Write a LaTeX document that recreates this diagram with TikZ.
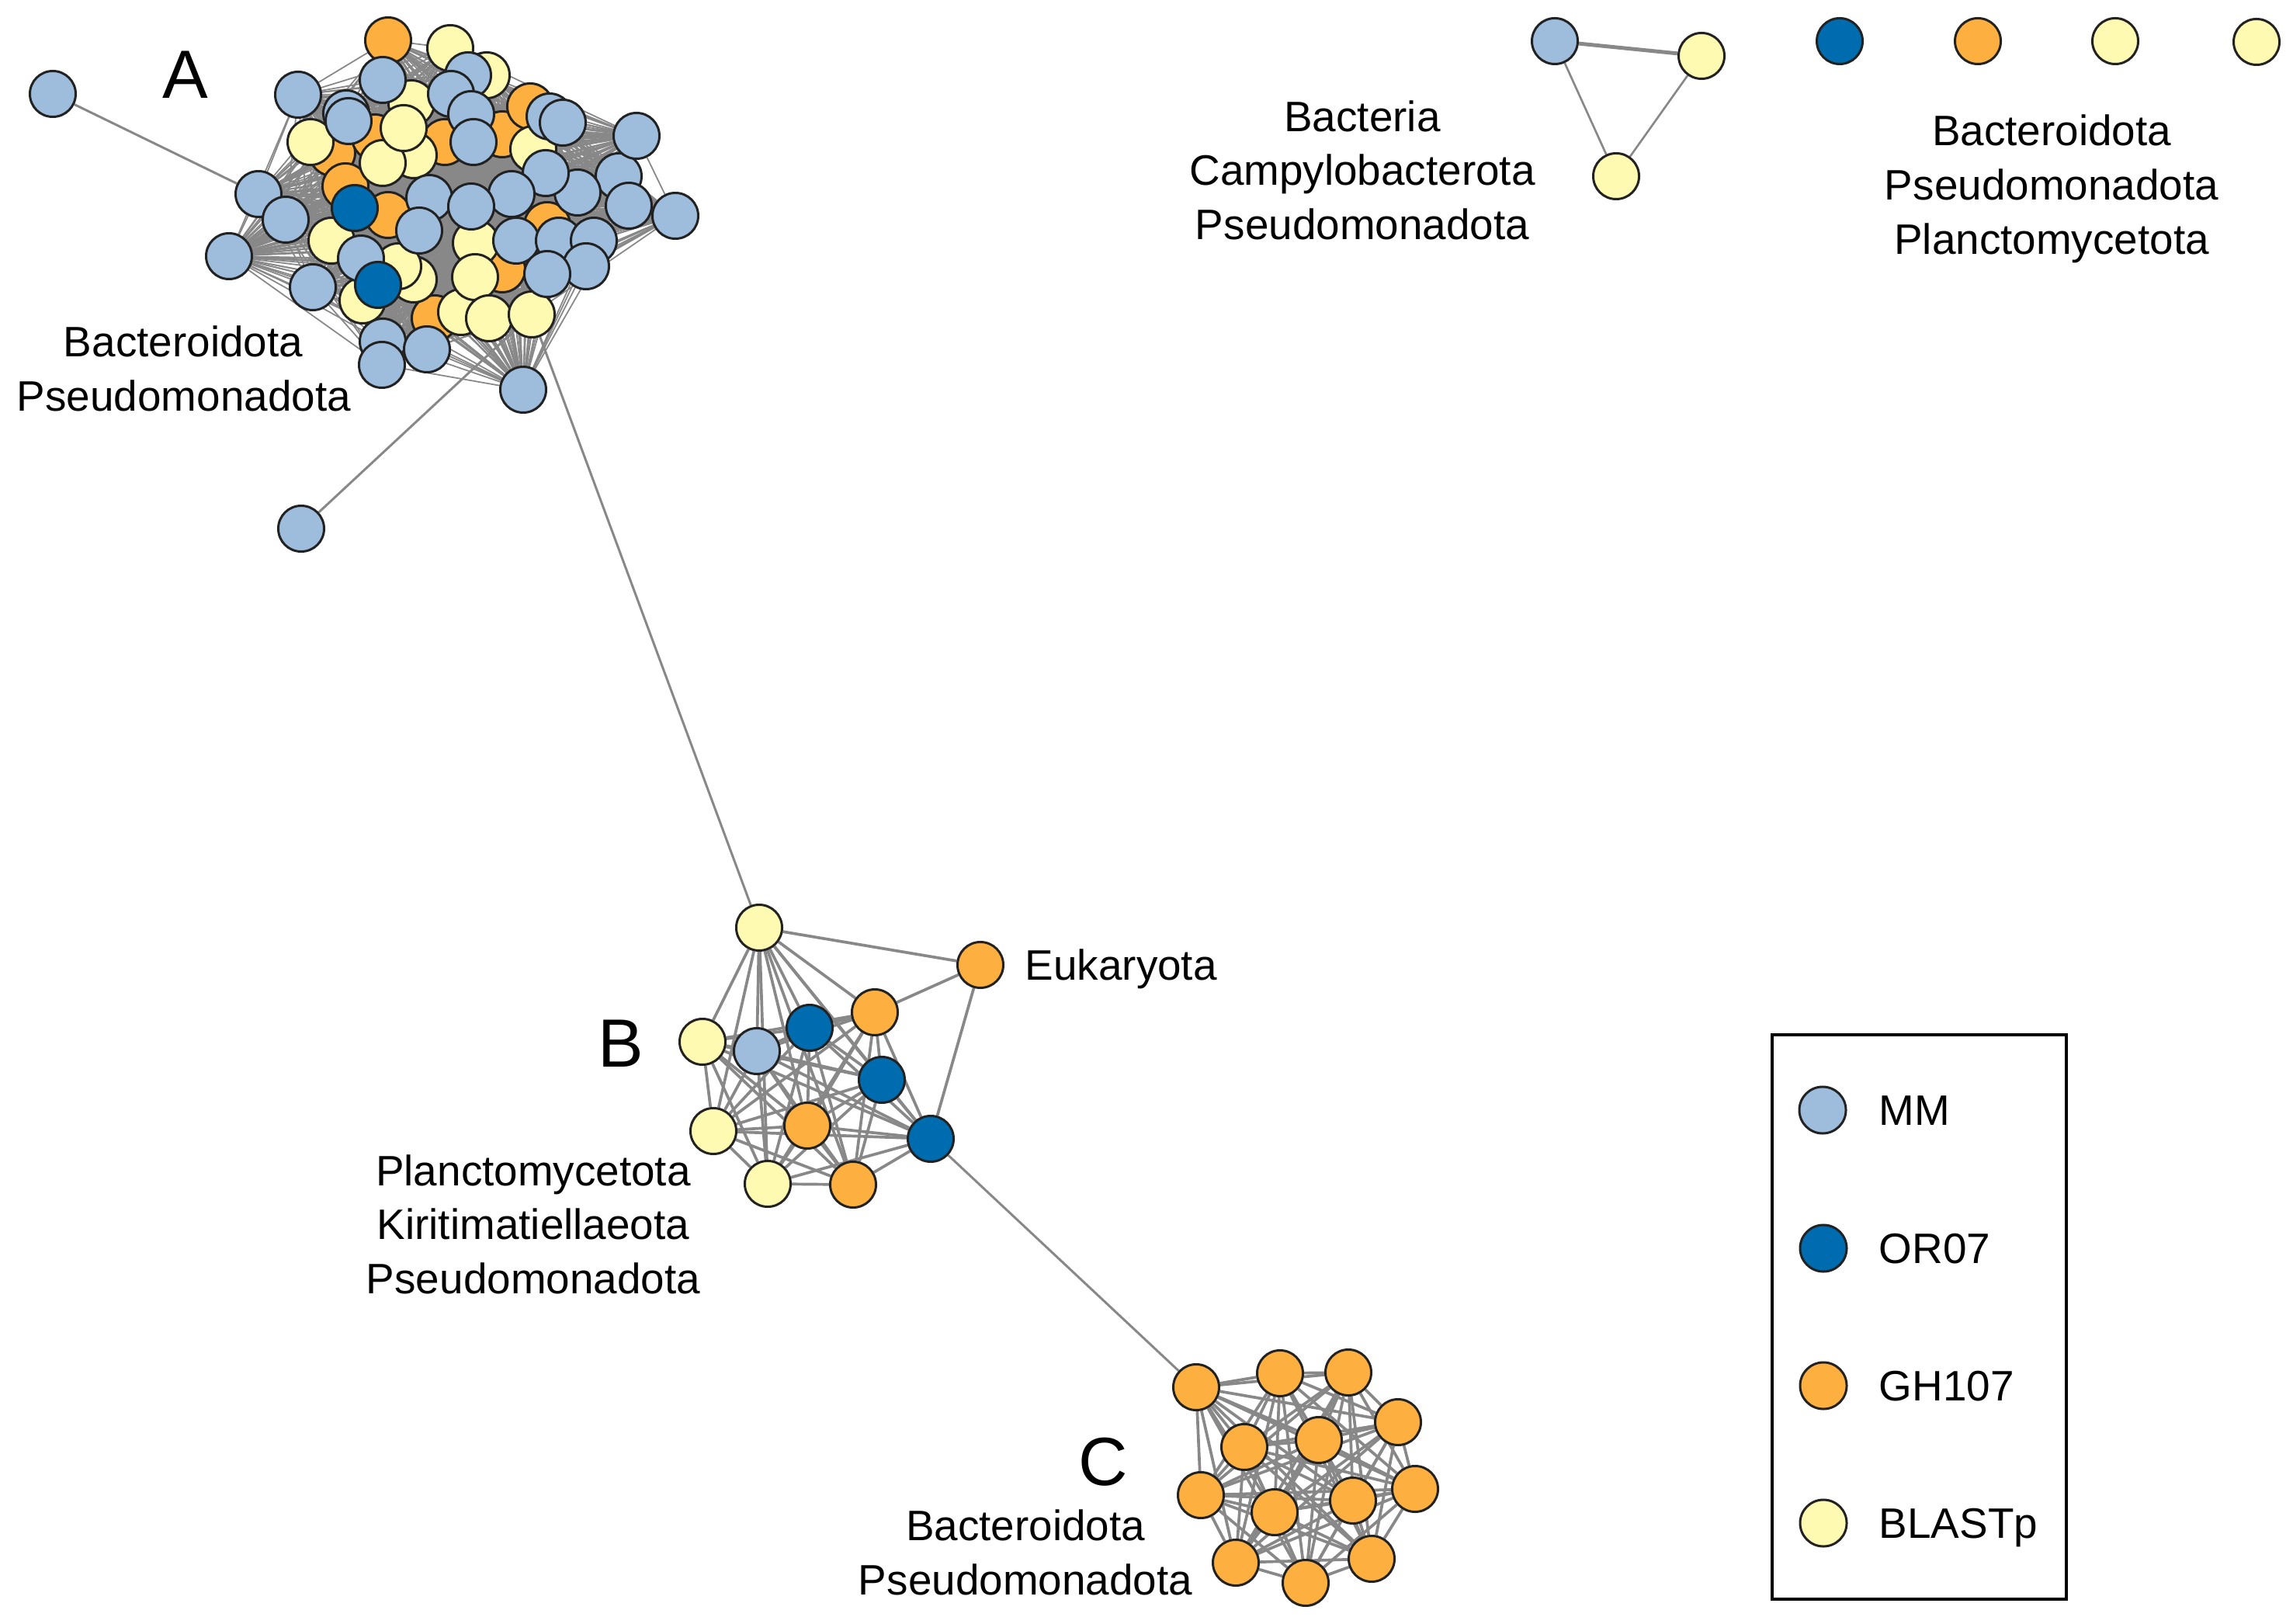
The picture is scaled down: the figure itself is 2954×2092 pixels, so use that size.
\documentclass[tikz,border=0pt]{standalone}
\usepackage{fontspec}
\setmainfont{Liberation Sans}
\pgfdeclarelayer{back}
\pgfdeclarelayer{bg}
\pgfsetlayers{back,bg,main}
\definecolor{cMM}{RGB}{158,189,221}
\definecolor{cOR}{RGB}{0,108,176}
\definecolor{cGH}{RGB}{253,176,64}
\definecolor{cBL}{RGB}{255,250,178}
\definecolor{cEdge}{RGB}{136,136,136}
\definecolor{cRim}{RGB}{34,34,34}
\begin{document}
\begin{tikzpicture}[x=0.01cm,y=-0.01cm,
  vtx/.style={circle,draw=cRim,line width=0.85pt,minimum size=0.59cm,inner sep=0pt},
  lnk/.style={draw=cEdge,line width=1.05pt},
  lnkA/.style={draw=cEdge,line width=0.5pt},
  lab/.style={font=\fontsize{15.6}{19.9}\selectfont,anchor=base,inner sep=0pt},
  big/.style={font=\fontsize{25}{30}\selectfont,anchor=base,inner sep=0pt}]
\begin{pgfonlayer}{back}
\fill[white] (0,0) rectangle (2954,2092);
\end{pgfonlayer}
\useasboundingbox (0,0) rectangle (2954,2092);

% ---------- cluster A ----------
\foreach [count=\k] \px/\py/\cc in {
 500/52/cGH, 428/197/cGH, 483/177/cGH, 445/240/cGH, 573/183/cGH, 647/173/cGH,
 683/137/cGH, 500/277/cGH, 560/410/cGH, 647/347/cGH, 705/290/cGH,
 580/62/cBL, 530/133/cBL, 533/200/cBL, 493/210/cBL, 400/183/cBL, 627/97/cBL,
 687/192/cBL, 427/310/cBL, 467/387/cBL, 533/360/cBL, 513/343/cBL, 594/402/cBL,
 613/313/cBL, 612/357/cBL, 630/410/cBL, 520/165/cBL, 685/405/cBL,
 493/103/cMM, 384/122/cMM, 446/146/cMM, 449/156/cMM, 333/250/cMM, 553/255/cMM,
 603/97/cMM, 581/121/cMM, 607/147/cMM, 610/183/cMM, 708/150/cMM, 725/158/cMM,
 797/227/cMM, 744/248/cMM, 703/223/cMM, 659/250/cMM, 607/266/cMM, 810/265/cMM,
 368/283/cMM, 295/330/cMM, 465/333/cMM, 403/370/cMM, 540/297/cMM, 493/440/cMM,
 492/470/cMM, 550/450/cMM, 665/310/cMM, 720/310/cMM, 765/310/cMM, 755/343/cMM,
 705/353/cMM,
 457/268/cOR, 487/367/cOR}
 { \node[vtx,fill=\cc] (a\k) at (\px,\py) {}; }
\node[vtx,fill=cMM] (aR2) at (820,175) {};
\node[vtx,fill=cMM] (aR1) at (870,278) {};
\node[vtx,fill=cMM] (aBot) at (674,502) {};
\node[vtx,fill=cMM] (aTL) at (68,121) {};
\node[vtx,fill=cMM] (aLB) at (388,681) {};

% ---------- cluster B ----------
\node[vtx,fill=cBL] (b1) at (978,1195) {};
\node[vtx,fill=cBL] (b2) at (905,1342) {};
\node[vtx,fill=cMM] (b3) at (975,1354) {};
\node[vtx,fill=cOR] (b4) at (1043,1324) {};
\node[vtx,fill=cGH] (b5) at (1127,1304) {};
\node[vtx,fill=cOR] (b6) at (1136,1391) {};
\node[vtx,fill=cOR] (b7) at (1199,1467) {};
\node[vtx,fill=cBL] (b8) at (919,1457) {};
\node[vtx,fill=cGH] (b9) at (1040,1450) {};
\node[vtx,fill=cBL] (b10) at (989,1525) {};
\node[vtx,fill=cGH] (b11) at (1099,1526) {};
\node[vtx,fill=cGH] (euk) at (1263,1243) {};

% ---------- cluster C ----------
\foreach [count=\k] \px/\py in {1541/1787, 1649/1769, 1737/1768, 1801/1832,
  1603/1864, 1699/1855, 1823/1918, 1547/1926, 1642/1948, 1743/1933,
  1592/2013, 1682/2039, 1767/2008}
 { \node[vtx,fill=cGH] (c\k) at (\px,\py) {}; }

% ---------- small components ----------
\node[vtx,fill=cMM] (t1) at (2003,53) {};
\node[vtx,fill=cBL] (t2) at (2192,72) {};
\node[vtx,fill=cBL] (t3) at (2082,227) {};
\node[vtx,fill=cOR] (s1) at (2370,53) {};
\node[vtx,fill=cGH] (s2) at (2548,53) {};
\node[vtx,fill=cBL] (s3) at (2725,53) {};
\node[vtx,fill=cBL] (s4) at (2907,54) {};

% ---------- edges ----------
\begin{pgfonlayer}{bg}
\foreach \i in {1,...,60}{
  \pgfmathtruncatemacro\ip{\i+1}
  \foreach \j in {\ip,...,61}{ \draw[lnkA] (a\i.center) -- (a\j.center); }
}
\foreach \i in {1,...,61}{
  \draw[lnkA] (aR1.center) -- (a\i.center);
  \draw[lnkA] (aR2.center) -- (a\i.center);
  \draw[lnkA] (aBot.center) -- (a\i.center);
}
\draw[lnkA] (aR1) -- (aR2);
\draw[lnk,line width=0.85pt] (aTL) -- (a33);
\draw[lnk,line width=0.85pt] (aLB) -- (a28);
\draw[lnk,line width=0.85pt] (a28) -- (b1);
\foreach \i in {1,...,10}{
  \pgfmathtruncatemacro\ip{\i+1}
  \foreach \j in {\ip,...,11}{ \draw[lnk] (b\i) -- (b\j); }
}
\draw[lnk] (euk) -- (b1);
\draw[lnk] (euk) -- (b5);
\draw[lnk] (euk) -- (b7);
\draw[lnk,line width=0.85pt] (b7) -- (c1);
\foreach \i in {1,...,12}{
  \pgfmathtruncatemacro\ip{\i+1}
  \foreach \j in {\ip,...,13}{ \draw[lnk] (c\i) -- (c\j); }
}
\draw[lnk,line width=1.4pt] (t1) -- (t2);
\draw[lnk,line width=0.75pt] (t1) -- (t3);
\draw[lnk,line width=0.75pt] (t2) -- (t3);
\end{pgfonlayer}

% ---------- labels ----------
\node[big] (lA) at (239,127) {A};
\node[big] (lB) at (800,1374) {B};
\node[big] (lC) at (1421,1913) {C};
\node[lab] (la1) at (236,460) {Bacteroidota};
\node[lab] (la2) at (237,530) {Pseudomonadota};
\node[lab] (lb1) at (687,1527) {Planctomycetota};
\node[lab] (lb2) at (687,1596) {Kiritimatiellaeota};
\node[lab] (lb3) at (687,1666) {Pseudomonadota};
\node[lab] (lc1) at (1321,1984) {Bacteroidota};
\node[lab] (lc2) at (1321,2054) {Pseudomonadota};
\node[lab,anchor=base west] (leuk) at (1320,1262) {Eukaryota};
\node[lab] (lt1) at (1755,170) {Bacteria};
\node[lab] (lt2) at (1755,239) {Campylobacterota};
\node[lab] (lt3) at (1755,309) {Pseudomonadota};
\node[lab] (ls1) at (2643,188) {Bacteroidota};
\node[lab] (ls2) at (2643,258) {Pseudomonadota};
\node[lab] (ls3) at (2643,328) {Planctomycetota};

% ---------- legend ----------
\draw[line width=1.4pt] (2283,1333) rectangle (2662,2060);
\node[vtx,minimum size=0.6cm,fill=cMM] (g1) at (2348,1430) {};
\node[vtx,minimum size=0.6cm,fill=cOR] (g2) at (2349,1608) {};
\node[vtx,minimum size=0.6cm,fill=cGH] (g3) at (2349,1785) {};
\node[vtx,minimum size=0.6cm,fill=cBL] (g4) at (2349,1962) {};
\node[lab,anchor=base west] (gl1) at (2420,1449) {MM};
\node[lab,anchor=base west] (gl2) at (2420,1627) {OR07};
\node[lab,anchor=base west] (gl3) at (2420,1804) {GH107};
\node[lab,anchor=base west] (gl4) at (2420,1981) {BLASTp};
\end{tikzpicture}
\end{document}
